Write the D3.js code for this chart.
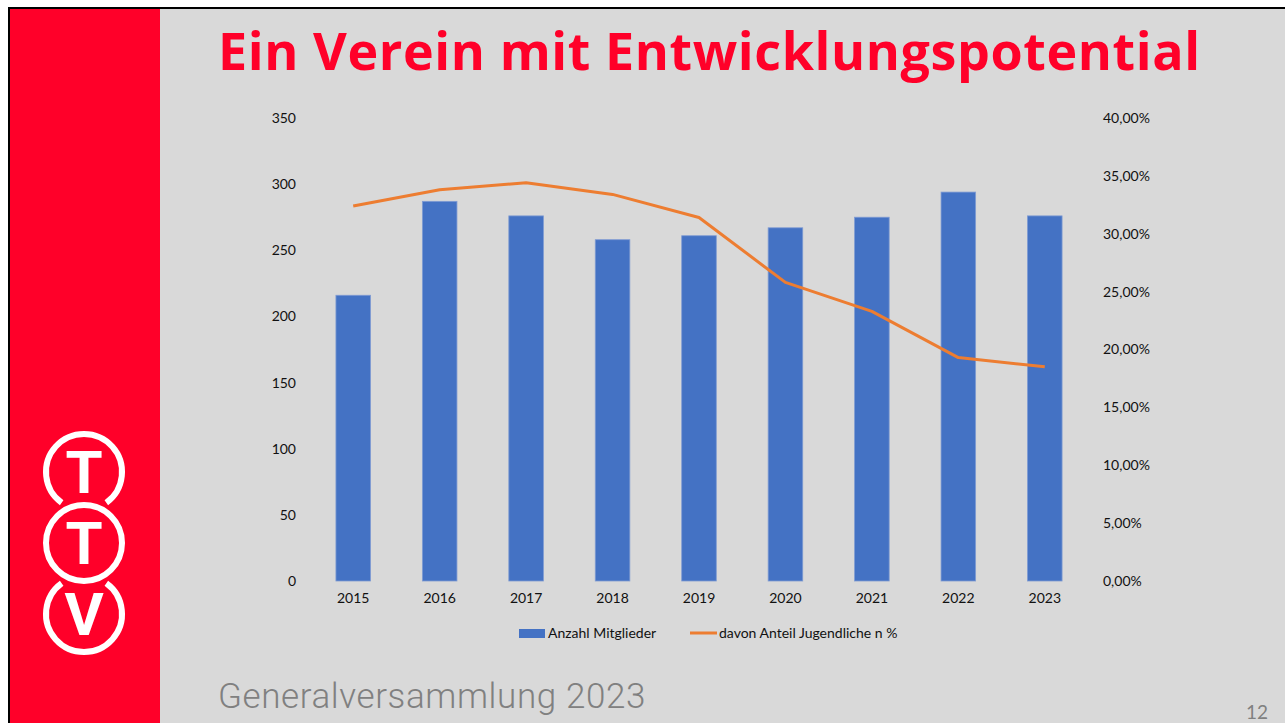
<!DOCTYPE html>
<html>
<head>
<meta charset="utf-8">
<script src="https://cdn.jsdelivr.net/npm/d3@7"></script>
<style>
  html, body { margin: 0; padding: 0; background: #fff; }
  svg { display: block; }
</style>
</head>
<body>
<svg id="chart" width="1285" height="723"></svg>
<script>
// chart data
const years = ['2015', '2016', '2017', '2018', '2019', '2020', '2021', '2022', '2023'];
const members = [216, 287, 276, 258, 261, 267, 275, 294, 276];
const youthShare = [0.324, 0.338, 0.344, 0.334, 0.314, 0.258, 0.233, 0.193, 0.185];
const leftTicks = [0, 50, 100, 150, 200, 250, 300, 350];
const rightTicks = [0, 0.05, 0.10, 0.15, 0.20, 0.25, 0.30, 0.35, 0.40];
const legendLabels = ['Anzahl Mitglieder', 'davon Anteil Jugendliche n %'];

const svg = d3.select('#chart');
const red = '#ff0029';

// slide background
svg.append('rect').attr('x', 8).attr('y', 7).attr('width', 1277).attr('height', 716).attr('fill', '#000');
svg.append('rect').attr('x', 10).attr('y', 9).attr('width', 1275).attr('height', 714).attr('fill', '#d9d9d9');
svg.append('rect').attr('x', 10).attr('y', 9).attr('width', 150).attr('height', 714).attr('fill', red);

// logo: top ring open at bottom, middle ring closed, bottom ring open at top
const logo = svg.append('g').attr('fill', 'none').attr('stroke', '#fff').attr('stroke-width', 6);
const cx = 84, r = 38;
const ring = d3.arc().innerRadius(r).outerRadius(r);
logo.append('path').attr('transform', `translate(${cx},472)`)
  .attr('d', ring({ startAngle: Math.PI * 1.2, endAngle: Math.PI * 2.8 }));
logo.append('circle').attr('cx', cx).attr('cy', 543).attr('r', r);
logo.append('path').attr('transform', `translate(${cx},614)`)
  .attr('d', ring({ startAngle: Math.PI * 0.2, endAngle: Math.PI * 1.8 }));
[['T', 472], ['T', 543], ['V', 614]].forEach(([t, y]) => {
  svg.append('text').attr('x', cx).attr('y', y + 21).attr('text-anchor', 'middle')
    .attr('font-family', 'Roboto, sans-serif').attr('font-weight', 'bold').attr('font-size', 60)
    .attr('fill', '#fff').text(t);
});

// title
const title = svg.append('text').attr('x', 218).attr('y', 70)
  .attr('font-family', '"Open Sans", sans-serif').attr('font-weight', 'bold').attr('font-size', 52)
  .attr('fill', red).text('Ein Verein mit Entwicklungspotential');
const tw = title.node().getComputedTextLength();
const chars = title.text().length;
title.attr('letter-spacing', ((982 - tw) / (chars - 1)).toFixed(2) + 'px');

// scales
const x = d3.scaleBand().domain(years).range([310, 1088]).paddingInner(0.6).paddingOuter(0.3);
const yL = d3.scaleLinear().domain([0, 350]).range([581, 118]);
const yR = d3.scaleLinear().domain([0, 0.40]).range([581, 118]);
const pct = d => d3.format('.2f')(d * 100).replace('.', ',') + '%';

const font = 'Lato, sans-serif';

// axes (labels only)
const axL = svg.append('g').attr('transform', 'translate(296,0)')
  .call(d3.axisLeft(yL).tickValues(leftTicks).tickSize(0).tickPadding(0));
const axR = svg.append('g').attr('transform', 'translate(1103,0)')
  .call(d3.axisRight(yR).tickValues(rightTicks).tickFormat(pct).tickSize(0).tickPadding(0));
const axB = svg.append('g').attr('transform', 'translate(0,593)')
  .call(d3.axisBottom(x).tickSize(0).tickPadding(0));
[axL, axR, axB].forEach(a => {
  a.select('.domain').remove();
  a.selectAll('text').attr('font-family', font).attr('font-size', 14).attr('fill', '#111');
});
axB.selectAll('text').attr('dy', '0.71em');

// bars
svg.append('g').selectAll('rect').data(members).join('rect')
  .attr('x', (d, i) => x(years[i]))
  .attr('y', d => yL(d))
  .attr('width', x.bandwidth())
  .attr('height', d => yL(0) - yL(d))
  .attr('fill', '#4472c4')
  .attr('stroke', '#7f9bd3').attr('stroke-width', 0.8);

// line
const line = d3.line()
  .x((d, i) => x(years[i]) + x.bandwidth() / 2)
  .y(d => yR(d));
svg.append('path').datum(youthShare)
  .attr('d', line).attr('fill', 'none')
  .attr('stroke', '#ed7d31').attr('stroke-width', 3).attr('stroke-linejoin', 'round');

// legend
const lg = svg.append('g').attr('font-family', font).attr('font-size', 14).attr('fill', '#111');
lg.append('rect').attr('x', 519).attr('y', 629).attr('width', 26).attr('height', 9).attr('fill', '#4472c4');
lg.append('text').attr('x', 548).attr('y', 638).text(legendLabels[0]);
lg.append('line').attr('x1', 690).attr('x2', 717).attr('y1', 633).attr('y2', 633)
  .attr('stroke', '#ed7d31').attr('stroke-width', 3);
lg.append('text').attr('x', 719).attr('y', 638).text(legendLabels[1]);

// footer
svg.append('text').attr('x', 218).attr('y', 708)
  .attr('font-family', 'Roboto, sans-serif').attr('font-weight', 300).attr('font-size', 35)
  .attr('letter-spacing', '0.6px').attr('fill', '#808080').text('Generalversammlung 2023');
svg.append('text').attr('x', 1268).attr('y', 719).attr('text-anchor', 'end')
  .attr('font-family', font).attr('font-size', 19).attr('fill', '#808080').text('12');
</script>
</body>
</html>
